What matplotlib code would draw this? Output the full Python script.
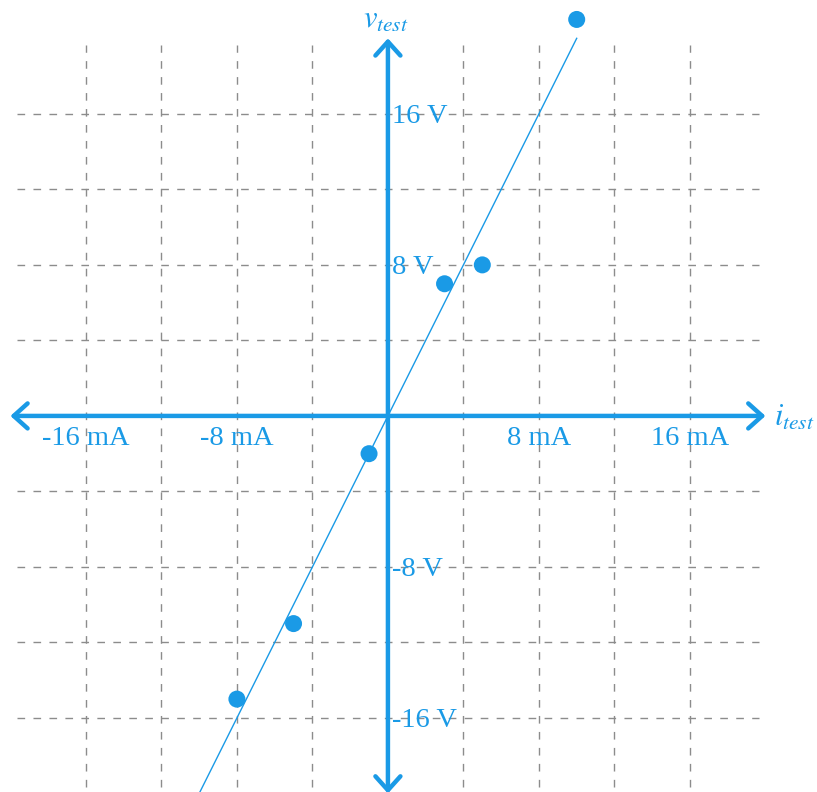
import numpy as np
import matplotlib.pyplot as plt

plt.rcParams['mathtext.fontset'] = 'stix'

# measured test points (current in mA, voltage in V)
i_meas = [-8, -5, -1, 3, 5, 10]
v_meas = [-15, -11, -2, 7, 8, 21]

# fitted line v = R * i
R_fit = 2.0
i_fit = [-10, 10]

x_ticks = [-16, -8, 8, 16]
y_ticks = [-16, -8, 8, 16]
grid_steps = [-16, -12, -8, -4, 4, 8, 12, 16]

blue = '#1a9ae6'
grey = '#8c8c8c'
lim = 20
grid_len = 19.65

fig = plt.figure(figsize=(8.17, 7.92), dpi=100)
ax = fig.add_axes([0, 0, 1, 1])
ax.set_xlim(-20.55, 22.73)
ax.set_ylim(-19.92, 22.03)
ax.axis('off')

# dashed grid
for g in grid_steps:
    ax.plot([g, g], [-grid_len, grid_len], color=grey, lw=1.0,
            dashes=(5.5, 6), zorder=1)
    ax.plot([-grid_len, grid_len], [g, g], color=grey, lw=1.0,
            dashes=(5.5, 6), zorder=1)

# axes with arrow heads at both ends
arrow = dict(arrowstyle='<->, head_length=0.5, head_width=0.45', color=blue,
             lw=3.2, shrinkA=0, shrinkB=0, mutation_scale=20,
             capstyle='round', joinstyle='round')
ax.annotate('', xy=(lim, 0), xytext=(-lim, 0), arrowprops=arrow, zorder=3)
ax.annotate('', xy=(0, lim), xytext=(0, -lim), arrowprops=arrow, zorder=3)

ax.text(20.45, -0.1, r'$i_{test}$', color=blue, fontsize=22,
        ha='left', va='center')
ax.text(-0.1, 21.0, r'$v_{test}$', color=blue, fontsize=22,
        ha='center', va='center')

for t in x_ticks:
    ax.text(t, -1.05, f'{t} mA', color=blue, fontsize=20.5,
            family='Liberation Serif', ha='center', va='center_baseline')
for t in y_ticks:
    ax.text(0.2, t, f'{t} V', color=blue, fontsize=20.5,
            family='Liberation Serif', ha='left', va='center_baseline')

# fit line and measured points
ax.plot(i_fit, [R_fit * i for i in i_fit], color=blue, lw=1.0, zorder=2)
ax.scatter(i_meas, v_meas, s=150, color=blue, edgecolors='none', zorder=4,
           clip_on=False)

fig.savefig('out.png', dpi=100)
